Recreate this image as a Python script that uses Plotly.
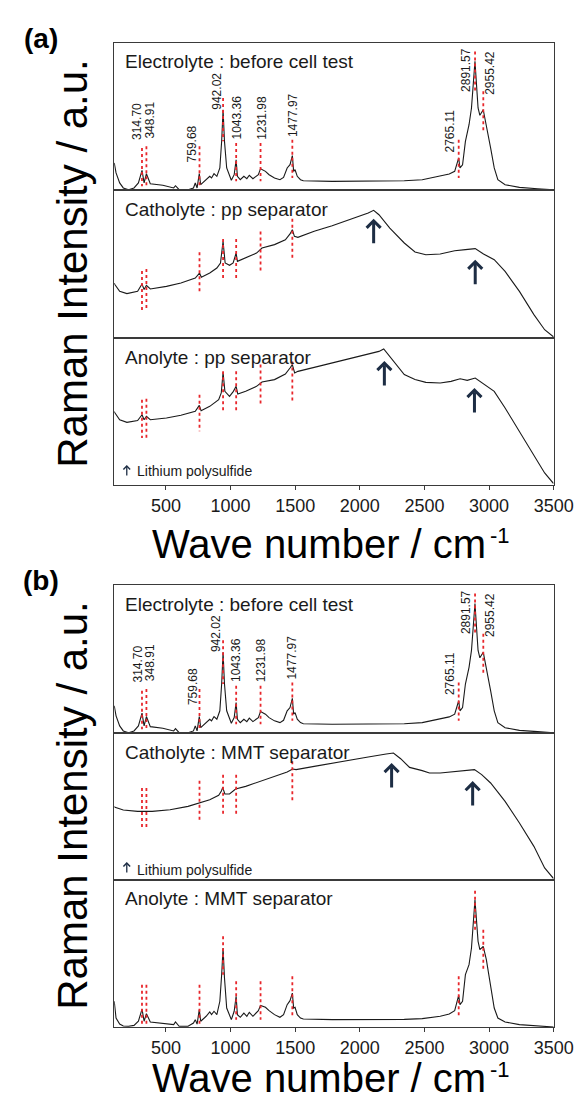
import plotly.graph_objects as go

W, H = 585, 1099

# ---------------- data (arbitrary units 0-100 per panel) -------------
WN_ELEC = [100, 114, 142, 170, 211, 253, 287, 315, 331, 349, 379, 476, 560, 574, 602, 671, 713, 727,
           741, 758, 769, 811, 839, 853, 872, 894, 917, 931, 942, 953, 970, 1006, 1028, 1043, 1053,
           1075, 1103, 1126, 1145, 1173, 1215, 1232, 1270, 1298, 1340, 1382, 1410, 1438, 1460, 1478,
           1488, 1499, 1516, 1541, 1563, 1786, 2065, 2344, 2483, 2622, 2692, 2734, 2765, 2775, 2795,
           2817, 2845, 2864, 2891, 2915, 2929, 2955, 2979, 3012, 3040, 3068, 3124, 3235, 3375, 3500]
I_ELEC = [18.4, 11.6, 4.8, 1.4, 0.2, 1.4, 4.8, 13.4, 4.8, 11.1, 4.3, 3.2, 1.4, 2.9, 0.2, 0.2, 1.4, 4.8,
          1.4, 11.1, 3.6, 7.0, 9.3, 8.2, 11.1, 9.3, 15.0, 33.1, 54.6, 33.1, 15.0, 6.6, 10.4, 20.6, 9.3,
          7.0, 9.3, 7.7, 10.0, 7.7, 10.4, 14.5, 12.7, 10.4, 8.2, 7.0, 8.6, 15.0, 17.2, 23.4,
          12.7, 13.8, 9.3, 7.0, 6.3, 5.9, 5.9, 6.3, 7.0, 9.3, 10.9, 12.7, 21.8, 15.0, 17.2,
          33.1, 44.4, 55.8, 87.5, 55.8, 50.8, 54.6, 44.4, 28.6, 15.0, 7.0, 3.6, 1.8, 0.9, 0.2]

WN_CATH_PP = [100, 106, 142, 198, 281, 315, 331, 349, 379, 504, 616, 727, 760, 774, 839, 894, 922, 942,
              958, 992, 1020, 1043, 1053, 1117, 1201, 1243, 1340, 1424, 1460, 1478, 1494, 1521, 1647,
              1786, 1925, 2065, 2107, 2148, 2232, 2344, 2427, 2511, 2622, 2734, 2817, 2893, 2957,
              3040, 3124, 3235, 3347, 3430, 3495, 3500]
I_CATH_PP = [37.0, 36.0, 31.5, 30.0, 31.5, 36.5, 32.7, 35.6, 33.1, 34.9, 37.2, 40.5, 43.9, 41.0, 43.9,
             47.3, 50.7, 65.3, 50.7, 49.1, 50.7, 57.4, 51.8, 54.1, 57.4, 60.8, 63.1, 66.4, 70.3, 73.2,
             68.7, 68.0, 72.1, 75.9, 80.0, 84.5, 86.3, 83.3, 74.3, 64.2, 58.1, 56.3, 56.8, 59.0, 59.7,
             60.4, 56.8, 52.9, 45.0, 31.5, 15.8, 5.6, 1.1, 1.0]

WN_ANO_PP = [100, 106, 142, 198, 281, 315, 331, 349, 379, 504, 616, 727, 758, 772, 839, 908, 928, 942,
             956, 992, 1022, 1043, 1056, 1117, 1201, 1243, 1340, 1424, 1460, 1478, 1496, 1521, 1647,
             1786, 1925, 2065, 2148, 2185, 2232, 2344, 2427, 2511, 2622, 2706, 2776, 2831, 2893, 2957,
             3040, 3124, 3235, 3347, 3430, 3495, 3500]
I_ANO_PP = [50.0, 49.0, 44.4, 42.6, 43.8, 47.8, 44.4, 46.7, 44.4, 45.6, 47.4, 50.1, 54.2, 50.6, 53.5,
            58.0, 62.6, 76.6, 63.7, 60.3, 63.7, 67.1, 61.9, 63.7, 67.1, 70.1, 71.7, 75.5, 79.6, 81.9,
            76.2, 77.3, 80.0, 83.0, 85.9, 88.7, 90.9, 92.5, 87.5, 75.1, 71.7, 69.8, 69.4, 70.5, 72.3,
            71.2, 72.8, 68.7, 63.7, 52.4, 36.5, 20.6, 8.2, 1.4, 1.2]

WN_CATH_MMT = [100, 106, 170, 281, 393, 532, 671, 763, 839, 908, 928, 939, 956, 992, 1039, 1117, 1229,
               1340, 1438, 1480, 1507, 1647, 1786, 1925, 2065, 2204, 2260, 2316, 2385, 2483, 2539,
               2622, 2734, 2817, 2887, 2943, 3012, 3124, 3235, 3347, 3430, 3495, 3500]
I_CATH_MMT = [50.0, 49.4, 47.6, 46.7, 46.7, 47.8, 50.1, 52.4, 54.6, 57.6, 60.3, 63.0, 58.5, 58.5, 61.9,
              63.7, 67.1, 70.5, 73.5, 75.5, 75.1, 77.3, 79.6, 81.9, 83.7, 85.7, 86.4, 82.5, 76.6, 74.4,
              72.8, 72.8, 73.9, 74.4, 75.1, 71.7, 66.0, 53.5, 38.8, 22.9, 8.2, 1.4, 1.2]

WN_ANO_MMT = [100, 114, 142, 170, 211, 253, 287, 315, 331, 349, 379, 476, 560, 574, 602, 671, 713, 727,
              741, 758, 769, 811, 839, 853, 872, 894, 917, 931, 942, 953, 970, 1006, 1028, 1043, 1053,
              1075, 1103, 1126, 1145, 1173, 1215, 1232, 1270, 1298, 1340, 1382, 1410, 1438, 1460, 1478,
              1488, 1499, 1516, 1541, 1563, 1786, 2065, 2344, 2483, 2622, 2692, 2734, 2765, 2775, 2795,
              2817, 2845, 2864, 2891, 2915, 2929, 2955, 2979, 3012, 3040, 3068, 3124, 3235, 3375, 3500]
I_ANO_MMT = [17.5, 6.1, 2.0, 0.7, 0.5, 1.1, 3.9, 12.2, 3.9, 9.1, 3.4, 2.7, 1.6, 3.4, 0.5, 0.5, 2.7, 5.0,
             2.0, 11.8, 3.9, 7.3, 10.2, 8.4, 10.7, 8.4, 17.5, 35.6, 53.7, 33.3, 12.9, 5.0, 10.7, 20.9, 8.4,
             6.6, 9.5, 7.3, 10.0, 7.3, 11.1, 14.7, 13.4, 11.1, 8.4, 6.6, 8.4, 15.2, 17.9, 23.1,
             12.9, 13.4, 8.4, 6.1, 5.4, 5.0, 5.0, 5.2, 5.7, 7.3, 8.8, 11.1, 21.5, 15.2, 17.5,
             35.6, 42.4, 53.7, 86.6, 58.3, 52.6, 54.9, 45.8, 28.8, 12.9, 6.1, 3.4, 1.6, 0.7, 0.0]

PEAKS = [314.70, 348.91, 759.68, 942.02, 1043.36, 1231.98, 1477.97, 2765.11, 2891.57, 2955.42]
PEAK_LABEL_X = [281, 379, 705, 889, 1046, 1241, 1478, 2700, 2823, 3006]
PEAK_LABEL_Y = [46.7, 47.4, 31.3, 67.0, 49.0, 49.0, 51.2, 40.0, 81.8, 79.6]

# red marker lines: top / bottom values per panel
ELEC_LINE_TOP = [28.6, 29.7, 29.7, 62.6, 32.0, 32.0, 34.2, 34.2, 94.3, 67.1]
ELEC_LINE_BOT = [2.5, 2.5, 1.4, 33.1, 5.9, 5.9, 8.2, 8.2, 67.1, 39.9]
CATH_PP_LINE_TOP = [45.3, 46.6, 58.0, 66.9, 66.9, 72.0, 80.6]
CATH_PP_LINE_BOT = [18.2, 19.6, 31.5, 40.5, 40.5, 45.0, 53.6]
ANO_PP_LINE_TOP = [58.0, 58.7, 61.4, 77.3, 77.3, 81.9, 84.0]
ANO_PP_LINE_BOT = [32.0, 32.0, 36.5, 50.1, 50.1, 54.6, 57.3]
CATH_MMT_PEAKS = [314.70, 348.91, 759.68, 942.02, 1043.36, 1477.97]
CATH_MMT_LINE_TOP = [62.6, 62.6, 67.5, 71.6, 71.6, 80.7]
CATH_MMT_LINE_BOT = [35.8, 35.8, 40.3, 44.4, 44.4, 54.0]
ANO_MMT_LINE_TOP = [28.8, 28.8, 28.8, 61.7, 31.1, 31.1, 34.5, 34.5, 92.7, 66.2]
ANO_MMT_LINE_BOT = [1.6, 1.6, 1.6, 35.6, 5.0, 5.0, 7.3, 7.3, 66.2, 39.0]

# polysulfide arrows: (panel, wavenumber, tip value)
ARROW_PANEL = [2, 2, 3, 3, 5, 5]
ARROW_WN = [2107, 2893, 2190, 2887, 2246, 2873]
ARROW_TIP = [80.6, 52.9, 84.4, 66.0, 79.6, 67.3]

PANEL_TITLES = ["Electrolyte : before cell test", "Catholyte : pp separator", "Anolyte : pp separator",
                "Electrolyte : before cell test", "Catholyte : MMT separator", "Anolyte : MMT separator"]
XTICKS = [500, 1000, 1500, 2000, 2500, 3000, 3500]

# ---------------- layout geometry (pixels) ----------------
PANELS = [(35, 182), (182, 330), (330, 477), (577, 725), (725, 872), (872, 1019)]
X0, X1 = 110, 565
FONT = "Liberation Sans, Arial, sans-serif"
AX_COLOR = "#3a3a3a"
TXT = "#1a1a1a"
NAVY = "#1d2d44"
RED = "#e8262b"


def red_segments(peaks, top, bot):
    xs, ys = [], []
    for p, t, b in zip(peaks, top, bot):
        xs += [p, p, None]
        ys += [t, b, None]
    return xs, ys


series = [(WN_ELEC, I_ELEC), (WN_CATH_PP, I_CATH_PP), (WN_ANO_PP, I_ANO_PP),
          (WN_ELEC, I_ELEC), (WN_CATH_MMT, I_CATH_MMT), (WN_ANO_MMT, I_ANO_MMT)]
red = [(PEAKS, ELEC_LINE_TOP, ELEC_LINE_BOT),
       (PEAKS[:7], CATH_PP_LINE_TOP, CATH_PP_LINE_BOT),
       (PEAKS[:7], ANO_PP_LINE_TOP, ANO_PP_LINE_BOT),
       (PEAKS, ELEC_LINE_TOP, ELEC_LINE_BOT),
       (CATH_MMT_PEAKS, CATH_MMT_LINE_TOP, CATH_MMT_LINE_BOT),
       (PEAKS, ANO_MMT_LINE_TOP, ANO_MMT_LINE_BOT)]

fig = go.Figure()
layout = {}
annotations = []

for i, ((t, b), (wx, wy), rd) in enumerate(zip(PANELS, series, red), start=1):
    xn = "x" if i == 1 else f"x{i}"
    yn = "y" if i == 1 else f"y{i}"
    fig.add_trace(go.Scatter(x=wx, y=wy, mode="lines", xaxis=xn, yaxis=yn,
                             line=dict(color="#1a1a1a", width=1.1), showlegend=False,
                             hoverinfo="skip"))
    sx, sy = red_segments(*rd)
    fig.add_trace(go.Scatter(x=sx, y=sy, mode="lines", xaxis=xn, yaxis=yn,
                             line=dict(color=RED, width=1.8, dash="dot"), showlegend=False,
                             hoverinfo="skip"))
    bottom = i in (3, 6)
    layout["xaxis" if i == 1 else f"xaxis{i}"] = dict(
        domain=[X0 / W, X1 / W], range=[100, 3500], anchor=yn,
        showline=True, mirror=True, linecolor=AX_COLOR, linewidth=1.3,
        showgrid=False, zeroline=False, tickvals=XTICKS, ticklabeloverflow="allow",
        ticks="outside" if bottom else "", ticklen=4, tickwidth=1.3, tickcolor=AX_COLOR,
        showticklabels=bottom, tickfont=dict(family=FONT, size=18, color=TXT))
    layout["yaxis" if i == 1 else f"yaxis{i}"] = dict(
        domain=[1 - b / H, 1 - t / H], range=[0, 100], anchor=xn,
        showline=True, mirror=True, linecolor=AX_COLOR, linewidth=1.3,
        showgrid=False, zeroline=False, showticklabels=False, ticks="")
    annotations.append(dict(text=PANEL_TITLES[i - 1], xref="paper", yref="paper",
                            x=119 / W, y=1 - (t + 19) / H, xanchor="left", yanchor="middle",
                            showarrow=False, font=dict(family=FONT, size=19, color=TXT)))

# peak labels for electrolyte panels
for pn in (1, 4):
    xn = "x" if pn == 1 else f"x{pn}"
    yn = "y" if pn == 1 else f"y{pn}"
    for p, lx, ly in zip(PEAKS, PEAK_LABEL_X, PEAK_LABEL_Y):
        annotations.append(dict(text=f"{p:.2f}", xref=xn, yref=yn, x=lx, y=ly,
                                textangle=-90, showarrow=False, xanchor="center", yanchor="middle",
                                font=dict(family=FONT, size=12, color=TXT)))

# polysulfide arrows
for pn, wn, tip in zip(ARROW_PANEL, ARROW_WN, ARROW_TIP):
    annotations.append(dict(text="", xref=f"x{pn}", yref=f"y{pn}", x=wn, y=tip,
                            ax=0, ay=26, showarrow=True, arrowhead=4, arrowsize=0.9,
                            arrowwidth=3, arrowcolor=NAVY))

# legend notes
for pn, tipv, txv in ((3, 13.6, 9.5), (5, 12.2, 7.0)):
    annotations.append(dict(text="", xref=f"x{pn}", yref=f"y{pn}", x=197, y=tipv,
                            ax=0, ay=12, showarrow=True, arrowhead=4, arrowsize=1.0,
                            arrowwidth=1.3, arrowcolor=NAVY))
    annotations.append(dict(text="Lithium polysulfide", xref=f"x{pn}", yref=f"y{pn}", x=264, y=txv,
                            xanchor="left", yanchor="middle", showarrow=False,
                            font=dict(family=FONT, size=14, color=TXT)))

# panel letters and big axis titles
for lab, yc in (("(a)", 31), ("(b)", 572)):
    annotations.append(dict(text=f"<b>{lab}</b>", xref="paper", yref="paper", x=34 / W, y=1 - yc / H,
                            xanchor="center", yanchor="middle", showarrow=False,
                            font=dict(family=FONT, size=28, color="#000")))
for yc in (255, 797):
    annotations.append(dict(text="Raman Intensity / a.u.", xref="paper", yref="paper",
                            x=66 / W, y=1 - yc / H, textangle=-90, xanchor="center", yanchor="middle",
                            showarrow=False, font=dict(family=FONT, size=42, color="#000")))
for yc, ys in ((536, 527), (1070, 1061)):
    annotations.append(dict(text="Wave number / cm", xref="paper", yref="paper",
                            x=497.5 / W, y=1 - yc / H, xanchor="right", yanchor="middle",
                            showarrow=False, font=dict(family=FONT, size=40, color="#000")))
    annotations.append(dict(text="-1", xref="paper", yref="paper",
                            x=496.5 / W, y=1 - ys / H, xanchor="left", yanchor="middle",
                            showarrow=False, font=dict(family=FONT, size=22, color="#000")))

fig.update_layout(width=W, height=H, margin=dict(l=0, r=0, t=0, b=0),
                  paper_bgcolor="white", plot_bgcolor="white",
                  annotations=annotations, showlegend=False, **layout)

fig.write_html("out.html")
